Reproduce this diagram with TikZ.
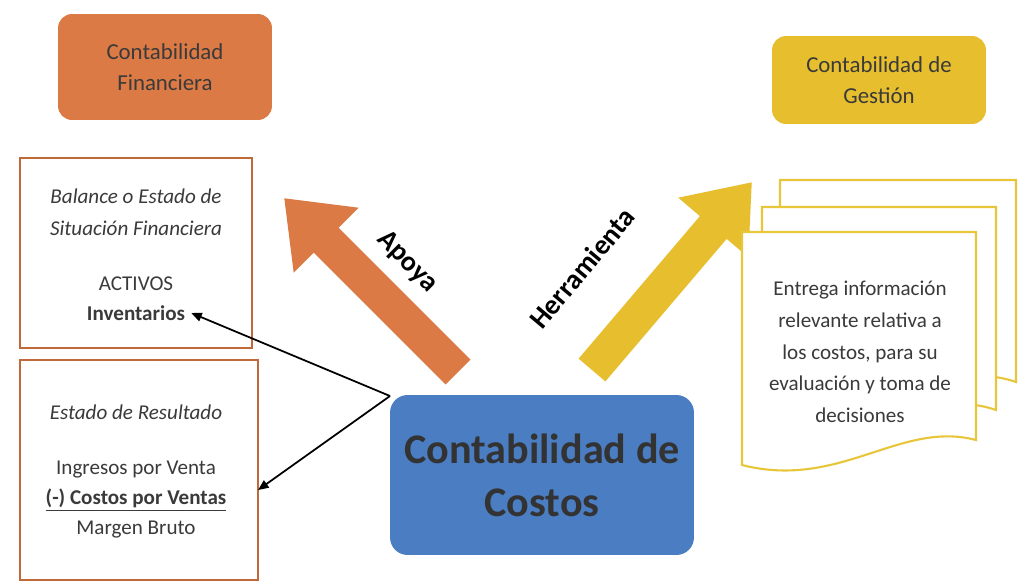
\documentclass[tikz,border=0pt]{standalone}
\usepackage{fontspec}
\setmainfont{Carlito}
\usetikzlibrary{arrows.meta}
\definecolor{orF}{HTML}{DC7A45}
\definecolor{orB}{HTML}{C0693A}
\definecolor{yeG}{HTML}{E6BE2E}
\definecolor{yeL}{HTML}{E8C63A}
\definecolor{blC}{HTML}{4B7DC2}
\definecolor{txt}{HTML}{3A3A3A}
\begin{document}
\begin{tikzpicture}[x=0.02cm,y=-0.02cm,
  tbox/.style={draw=none,rounded corners=8pt,align=center,text=txt,font=\fontsize{13}{16}\selectfont},
  obox/.style={draw=orB,line width=1.5pt},
  t/.style={text=txt,font=\fontsize{12}{14}\selectfont},
  page/.style={draw=yeL,line width=1.2pt,fill=white}]
\useasboundingbox (0,0) rectangle (1024,586);
\fill[white] (0,0) rectangle (1024,586);
% top boxes
\node[tbox,fill=orF,minimum width=4.28cm,minimum height=2.12cm] (fin) at (165,67) {Contabilidad\\[2pt]Financiera};
\node[tbox,fill=yeG,minimum width=4.28cm,minimum height=1.76cm] (ges) at (879,80) {Contabilidad de\\[2pt]Gestión};
% left boxes
\node[obox,minimum width=4.64cm,minimum height=3.8cm] (b1) at (136,253) {};
\node[t,font=\fontsize{12}{14}\selectfont\itshape] (b1a) at (136,196) {Balance o Estado de};
\node[t,font=\fontsize{12}{14}\selectfont\itshape] (b1b) at (136,228) {Situación Financiera};
\node[t] (b1c) at (136,284) {ACTIVOS};
\node[t,font=\fontsize{12}{14}\selectfont\bfseries] (inv) at (136,313) {Inventarios};
\node[obox,minimum width=4.76cm,minimum height=4.4cm] (b2) at (139,470) {};
\node[t,font=\fontsize{12}{14}\selectfont\itshape] (b2a) at (136,412) {Estado de Resultado};
\node[t] (b2b) at (136,470) {Ingresos por Venta};
\node[t,font=\fontsize{12}{14}\selectfont\bfseries] (cv) at (136,500) {\underline{(-) Costos por Ventas}};
\node[t] (b2d) at (136,530) {Margen Bruto};
% central
\node[tbox,fill=blC,rounded corners=10pt,minimum width=6.08cm,minimum height=3.2cm,font=\fontsize{24}{30}\selectfont\bfseries,text=black!80] (cc) at (542,475) {Contabilidad de\\Costos};
% big arrows
\coordinate (a1s) at (458,372); \coordinate (a1e) at (284,198);
\draw[orF,line width=20pt,-{Triangle[length=34pt,width=50pt]}] (a1s) -- (a1e);
\node[rotate=-45,font=\fontsize{16}{18}\selectfont\bfseries] (apoya) at (407,262) {Apoya};
\coordinate (a2s) at (592,370); \coordinate (a2e) at (752,182);
\draw[yeG,line width=20pt,-{Triangle[length=34pt,width=50pt]}] (a2s) -- (a2e);
\node[rotate=50,font=\fontsize{16}{18}\selectfont\bfseries] (herr) at (582,268) {Herramienta};
% documents
\draw[page] (780,180) -- (1016,180) -- (1016,382) .. controls (960,362) and (900,400) .. (780,385) -- cycle;
\draw[page] (762,207) -- (996,207) -- (996,410) .. controls (940,390) and (880,428) .. (762,413) -- cycle;
\draw[page] (742,232) -- (976,232) -- (976,440) .. controls (900,420) and (840,490) .. (742,465) -- cycle;
\node[t,align=center,font=\fontsize{12}{18}\selectfont] (doc) at (860,352) {Entrega información\\relevante relativa a\\los costos, para su\\evaluación y toma de\\decisiones};
% thin arrows
\coordinate (j) at (390,396);
\draw[line width=1pt,-{Triangle[length=6pt,width=5pt]}] (cc.north west) ++(0,2) coordinate (j0) (j) -- (inv.east);
\draw[line width=1pt,-{Triangle[length=6pt,width=5pt]}] (j) -- (258,490);
\end{tikzpicture}
\end{document}
